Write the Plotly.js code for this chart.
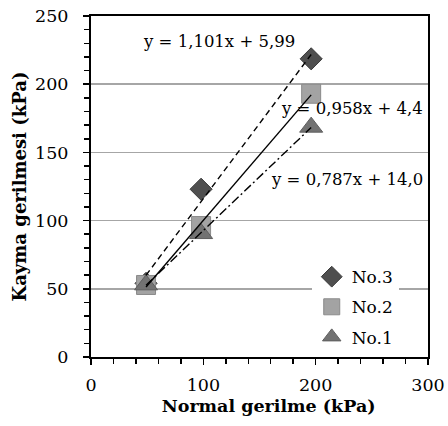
<!DOCTYPE html>
<html>
<head>
<meta charset="utf-8">
<script src="https://cdn.plot.ly/plotly-3.0.1.min.js"></script>
<style>
  html, body { margin: 0; padding: 0; background: #fff; }
  #chart { width: 448px; height: 426px; }
</style>
</head>
<body>
<div id="chart"></div>
<script>
// ---- data ----
const normalStress = [49, 98, 196];               // kPa
const seriesNames  = ["No.3", "No.2", "No.1"];
const no3Shear = [54, 123, 218.6];
const no2Shear = [52.8, 96, 193];
const no1Shear = [52.9, 90.5, 168.5];
// trendline coefficients (as printed on the chart)
const slopes     = [1.101, 0.958, 0.787];
const intercepts = [5.99, 4.4, 14.0];
const equationLabels = ["y = 1,101x + 5,99", "y = 0,958x + 4,4", "y = 0,787x + 14,0"];
const xTickVals = [0, 100, 200, 300];
const yTickVals = [0, 50, 100, 150, 200, 250];

// ---- styles ----
const shearSeries = [no3Shear, no2Shear, no1Shear];
const symbols = ["diamond", "square", "triangle-up"];
const fills   = ["#4f4f4f", "#a3a3a3", "#727272"];
const edges   = ["#3a3a3a", "#8a8a8a", "#5e5e5e"];
const sizes   = [17, 19, 20];
const dashes  = ["6px,4px", "solid", "9px,3px,2px,3px"];
const FONT = "DejaVu Serif, Liberation Serif, serif";

const traces = [];
shearSeries.forEach((ys, i) => {
  traces.push({
    type: "scatter", mode: "markers", name: seriesNames[i],
    x: normalStress, y: ys,
    marker: { symbol: symbols[i], size: sizes[i], color: fills[i],
              line: { color: edges[i], width: 1 } },
    legendgroup: "g" + i, cliponaxis: false, hoverinfo: "skip"
  });
});
shearSeries.forEach((ys, i) => {
  const xs = [normalStress[0], normalStress[normalStress.length - 1]];
  traces.push({
    type: "scatter", mode: "lines", showlegend: false,
    x: xs, y: xs.map(v => slopes[i] * v + intercepts[i]),
    line: { color: "#000", width: 1.4, dash: dashes[i] },
    hoverinfo: "skip"
  });
});

const eqPos = [[114, 231.5], [232.5, 182.5], [228, 130]];
const annotations = equationLabels.map((t, i) => ({
  text: t, x: eqPos[i][0], y: eqPos[i][1], xref: "x", yref: "y",
  showarrow: false, font: { family: FONT, size: 16.5, color: "#000" },
  bgcolor: "rgba(255,255,255,0)"
}));

const layout = {
  width: 448, height: 426,
  margin: { l: 91, r: 20, t: 16, b: 69, pad: 0 },
  paper_bgcolor: "#fff", plot_bgcolor: "#fff",
  showlegend: true,
  legend: {
    x: 0.655, xanchor: "left", y: 0.287, yanchor: "top",
    bgcolor: "#fff", borderwidth: 0,
    font: { family: FONT, size: 17, color: "#000" },
    traceorder: "grouped", tracegroupgap: 5
  },
  font: { family: FONT, size: 17, color: "#000" },
  xaxis: {
    range: [0, 300], tickvals: xTickVals, ticktext: xTickVals.map(String),
    showgrid: false, zeroline: false,
    showline: true, linecolor: "#000", linewidth: 2, mirror: true,
    ticks: "outside", ticklen: 6, tickwidth: 1.5, tickcolor: "#000",
    minor: { dtick: 20, ticks: "outside", ticklen: 5, tickwidth: 1.5, tickcolor: "#000", showgrid: false },
    tickfont: { family: FONT, size: 17.5, color: "#000" },
    ticklabelstandoff: 5,
    title: { text: "<b>&nbsp;&nbsp;&nbsp;Normal gerilme (kPa)</b>", font: { family: FONT, size: 17.5, color: "#000" }, standoff: 6 }
  },
  yaxis: {
    range: [0, 250], tickvals: yTickVals, ticktext: yTickVals.map(String),
    showgrid: true, gridcolor: "#a6a6a6", gridwidth: 1.5, zeroline: false,
    showline: true, linecolor: "#000", linewidth: 2, mirror: true,
    ticks: "outside", ticklen: 6, tickwidth: 1.5, tickcolor: "#000",
    minor: { dtick: 10, ticks: "outside", ticklen: 5, tickwidth: 1.5, tickcolor: "#000", showgrid: false },
    tickfont: { family: FONT, size: 17.5, color: "#000" },
    ticklabelstandoff: 11,
    title: { text: "<b>Kayma gerilmesi (kPa)</b>", font: { family: FONT, size: 18, color: "#000" }, standoff: 4 }
  },
  annotations: annotations
};

Plotly.newPlot("chart", traces, layout, { staticPlot: true, displayModeBar: false });
</script>
</body>
</html>
